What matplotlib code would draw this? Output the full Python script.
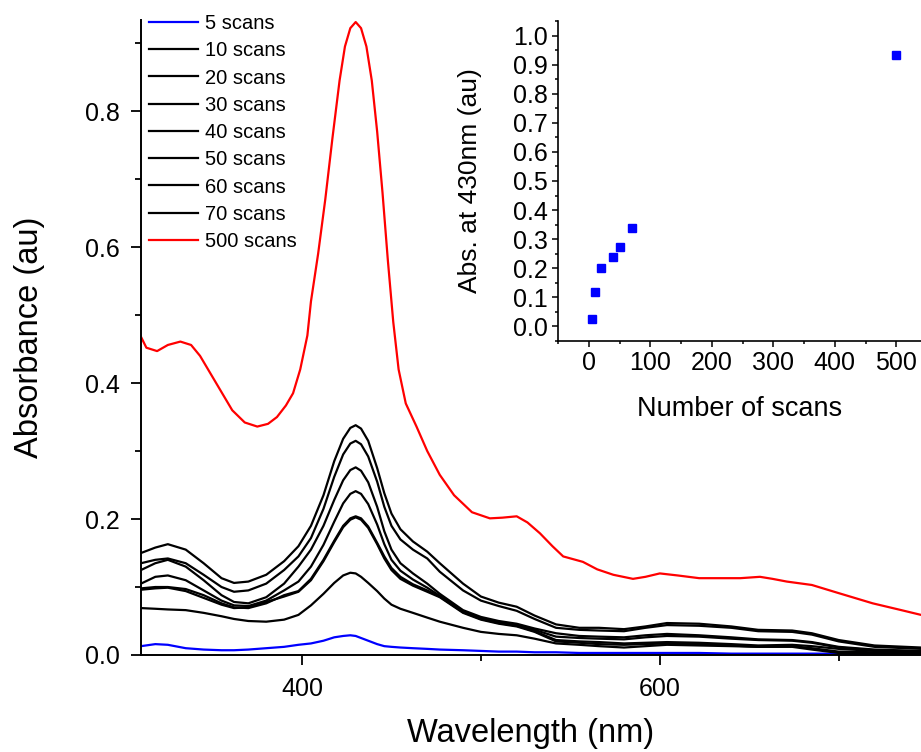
import matplotlib
matplotlib.use('Agg')
import matplotlib.pyplot as plt
from matplotlib.ticker import MultipleLocator, FormatStrFormatter

plt.rcParams['font.family'] = ['Liberation Sans', 'DejaVu Sans']

# Espectros: rejilla comun de longitudes de onda (nm)
wl = [310, 318, 325, 335, 345, 355, 362, 370, 380, 390, 398,
      405, 412, 418, 423, 427, 430, 433, 437, 442, 446, 450, 455, 462, 470, 477,
      490, 500, 510, 520, 530, 542, 555, 566, 580, 592, 604, 622, 640, 655, 674,
      685, 700, 720, 746]

abs5 = [0.013, 0.016, 0.015, 0.010, 0.008, 0.007, 0.007, 0.008, 0.010, 0.012, 0.015,
        0.017, 0.021, 0.026, 0.028, 0.029, 0.028, 0.025, 0.021, 0.016, 0.013, 0.012,
        0.011, 0.010, 0.009, 0.008,
        0.007, 0.006, 0.005, 0.005, 0.004, 0.004, 0.003, 0.003, 0.003, 0.003, 0.003,
        0.003, 0.002, 0.002, 0.002, 0.002, 0.002, 0.001, 0.001]
abs10 = [0.069, 0.068, 0.067, 0.066, 0.062, 0.057, 0.053, 0.050, 0.049, 0.052, 0.059,
         0.073, 0.090, 0.106, 0.117, 0.121, 0.120, 0.115, 0.106, 0.094, 0.083, 0.074,
         0.068, 0.062, 0.055, 0.049,
         0.040, 0.034, 0.031, 0.029, 0.024, 0.017, 0.015, 0.013, 0.011, 0.013, 0.015,
         0.014, 0.013, 0.012, 0.012, 0.008, 0.003, 0.002, 0.002]
abs20 = [0.096, 0.098, 0.099, 0.094, 0.084, 0.074, 0.069, 0.070, 0.078, 0.086, 0.093,
         0.110, 0.138, 0.166, 0.188, 0.199, 0.2025, 0.199, 0.187, 0.163, 0.142, 0.125,
         0.112, 0.102, 0.093, 0.085,
         0.062, 0.052, 0.046, 0.042, 0.034, 0.020, 0.018, 0.016, 0.015, 0.016, 0.017,
         0.016, 0.014, 0.012, 0.013, 0.010, 0.005, 0.004, 0.004]
abs30 = [0.098, 0.100, 0.100, 0.097, 0.088, 0.076, 0.070, 0.069, 0.076, 0.088, 0.094,
         0.112, 0.140, 0.168, 0.190, 0.201, 0.204, 0.201, 0.189, 0.165, 0.145, 0.128,
         0.115, 0.104, 0.095, 0.086,
         0.063, 0.053, 0.047, 0.043, 0.035, 0.022, 0.020, 0.019, 0.017, 0.018, 0.019,
         0.018, 0.016, 0.014, 0.015, 0.013, 0.009, 0.006, 0.005]
abs40 = [0.105, 0.115, 0.117, 0.110, 0.095, 0.080, 0.073, 0.072, 0.080, 0.095, 0.108,
         0.130, 0.162, 0.196, 0.223, 0.237, 0.241, 0.237, 0.222, 0.192, 0.163, 0.140,
         0.124, 0.111, 0.099, 0.087,
         0.064, 0.054, 0.048, 0.044, 0.037, 0.027, 0.025, 0.024, 0.023, 0.026, 0.028,
         0.027, 0.024, 0.022, 0.021, 0.018, 0.011, 0.007, 0.005]
abs50 = [0.125, 0.135, 0.140, 0.130, 0.110, 0.088, 0.078, 0.076, 0.085, 0.105, 0.130,
         0.155, 0.190, 0.228, 0.257, 0.272, 0.276, 0.271, 0.254, 0.218, 0.182, 0.155,
         0.135, 0.120, 0.105, 0.090,
         0.066, 0.056, 0.050, 0.046, 0.039, 0.032, 0.028, 0.027, 0.026, 0.029, 0.031,
         0.029, 0.026, 0.023, 0.022, 0.019, 0.012, 0.008, 0.006]
abs60 = [0.135, 0.140, 0.142, 0.135, 0.118, 0.100, 0.093, 0.095, 0.105, 0.125, 0.145,
         0.172, 0.215, 0.262, 0.295, 0.311, 0.315, 0.310, 0.292, 0.255, 0.218, 0.190,
         0.170, 0.155, 0.142, 0.1225,
         0.095, 0.080, 0.072, 0.065, 0.053, 0.040, 0.037, 0.036, 0.035, 0.040, 0.044,
         0.043, 0.040, 0.035, 0.034, 0.030, 0.020, 0.012, 0.009]
abs70 = [0.150, 0.158, 0.163, 0.155, 0.135, 0.113, 0.106, 0.108, 0.118, 0.138, 0.160,
         0.190, 0.235, 0.285, 0.318, 0.334, 0.338, 0.333, 0.315, 0.275, 0.238, 0.208,
         0.185, 0.167, 0.152, 0.135,
         0.105, 0.086, 0.077, 0.071, 0.058, 0.045, 0.040, 0.040, 0.038, 0.042, 0.047,
         0.046, 0.042, 0.037, 0.036, 0.032, 0.022, 0.014, 0.011]

# 500 barridos (curva roja) con su propia rejilla
wl500 = [310, 313, 319, 325, 332, 338, 343, 352, 361, 368, 375, 381, 386, 391, 395,
         399, 403, 405, 409, 413, 417, 421, 424, 427, 430, 433, 436, 439, 442, 445,
         448, 451, 454, 458, 464, 470, 477, 485, 495, 505, 512, 520, 526, 533, 540,
         546, 557, 565, 574, 585, 592, 600, 610, 622, 645, 656, 663, 671, 685, 700,
         719, 735, 746]
abs500 = [0.468, 0.452, 0.447, 0.456, 0.461, 0.456, 0.440, 0.400, 0.360, 0.342, 0.336,
          0.340, 0.350, 0.367, 0.385, 0.420, 0.470, 0.520, 0.590, 0.670, 0.760, 0.845,
          0.895, 0.922, 0.931, 0.922, 0.895, 0.845, 0.770, 0.680, 0.580, 0.490, 0.420,
          0.370, 0.336, 0.300, 0.265, 0.235, 0.210, 0.201, 0.202, 0.204, 0.195, 0.179,
          0.160, 0.145, 0.137, 0.126, 0.118, 0.112, 0.115, 0.120, 0.117, 0.113, 0.113,
          0.115, 0.112, 0.108, 0.103, 0.091, 0.076, 0.066, 0.059]

series = [('5 scans', abs5, 'blue'), ('10 scans', abs10, 'black'),
          ('20 scans', abs20, 'black'), ('30 scans', abs30, 'black'),
          ('40 scans', abs40, 'black'), ('50 scans', abs50, 'black'),
          ('60 scans', abs60, 'black'), ('70 scans', abs70, 'black')]

# Inset: absorbancia a 430 nm vs numero de barridos
n_scans = [5, 10, 20, 40, 50, 70, 500]
abs430 = [0.027, 0.118, 0.201, 0.239, 0.273, 0.339, 0.932]

fig = plt.figure(figsize=(9.21, 7.52), dpi=100)
ax = fig.add_axes([141 / 921, 97 / 752, 780 / 921, 635 / 752])

for lab, y, c in series:
    ax.plot(wl, y, color=c, lw=1.6, label=lab)
ax.plot(wl500, abs500, color='red', lw=1.6, label='500 scans')

ax.set_xlim(310, 746)
ax.set_ylim(0, 0.934)
ax.xaxis.set_major_locator(MultipleLocator(200))
ax.xaxis.set_minor_locator(MultipleLocator(100))
ax.yaxis.set_major_locator(MultipleLocator(0.2))
ax.yaxis.set_minor_locator(MultipleLocator(0.1))
ax.yaxis.set_major_formatter(FormatStrFormatter('%.1f'))
for s in ['top', 'right']:
    ax.spines[s].set_visible(False)
for s in ['left', 'bottom']:
    ax.spines[s].set_linewidth(1.4)
ax.tick_params(which='major', direction='out', length=7, width=1.3, labelsize=18)
ax.tick_params(which='minor', direction='out', length=4, width=1.3)
ax.tick_params(axis='y', which='major', pad=8)
ax.tick_params(axis='x', which='major', pad=9)
ax.set_xlabel('Wavelength (nm)', fontsize=23.5, labelpad=12)
ax.set_ylabel('Absorbance (au)', fontsize=23.5, labelpad=29)

ax.legend(loc='upper left', bbox_to_anchor=(149 / 921, 1 - 14 / 752),
          bbox_transform=fig.transFigure, frameon=False, fontsize=14.5,
          handlelength=2.45, handletextpad=0.35, labelspacing=0.41,
          borderpad=0, borderaxespad=0)

# Grafica insertada
axi = fig.add_axes([558 / 921, (752 - 341) / 752, 363 / 921, 320 / 752])
axi.plot(n_scans, abs430, 's', color='blue', ms=6)
axi.set_xlim(-50, 540)
axi.set_ylim(-0.05, 1.05)
axi.xaxis.set_major_locator(MultipleLocator(100))
axi.xaxis.set_minor_locator(MultipleLocator(50))
axi.yaxis.set_major_locator(MultipleLocator(0.1))
axi.yaxis.set_minor_locator(MultipleLocator(0.05))
axi.yaxis.set_major_formatter(FormatStrFormatter('%.1f'))
for s in ['top', 'right']:
    axi.spines[s].set_visible(False)
for s in ['left', 'bottom']:
    axi.spines[s].set_linewidth(1.2)
axi.tick_params(which='major', direction='out', length=4, width=1.1, labelsize=18)
axi.tick_params(which='minor', direction='out', length=2.5, width=1.1)
axi.set_xlabel('Number of scans', fontsize=19.5, labelpad=15)
axi.set_ylabel('Abs. at 430nm (au)', fontsize=19, labelpad=22)

fig.savefig('out.png', dpi=100)
